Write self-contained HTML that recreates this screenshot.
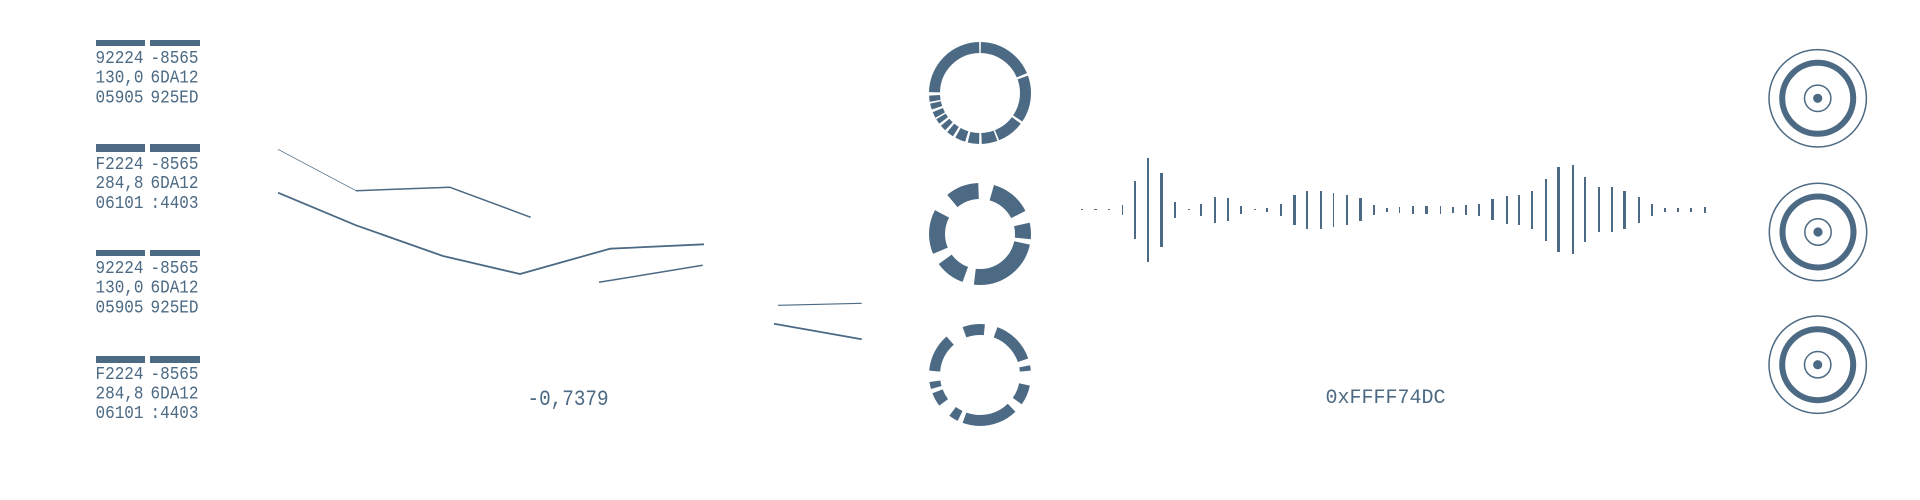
<!DOCTYPE html>
<html>
<head>
<meta charset="utf-8">
<style>
html,body{margin:0;padding:0;background:#fff;width:1920px;height:500px;overflow:hidden}
svg{display:block}
text{font-family:"Liberation Mono",monospace;fill:#4c6a84;white-space:pre}
.t{font-size:16px}
.l{fill:none;stroke:#4c6a84;stroke-linejoin:bevel}
.s{fill:none;stroke:#4c6a84}
</style>
</head>
<body>
<svg width="1920" height="500" viewBox="0 0 1920 500" xmlns="http://www.w3.org/2000/svg">
<rect width="1920" height="500" fill="#fff"/>
<g shape-rendering="crispEdges" fill="#4c6a84">
<rect x="96" y="40" width="49" height="6"/><rect x="150" y="40" width="50" height="6"/>
<rect x="96" y="144" width="49" height="8"/><rect x="150" y="144" width="50" height="8"/>
<rect x="96" y="250" width="49" height="6"/><rect x="150" y="250" width="50" height="6"/>
<rect x="96" y="356" width="49" height="7"/><rect x="150" y="356" width="50" height="7"/>
</g>
<text class="t" transform="translate(95.5,63) scale(1,1.13)">92224</text><text class="t" transform="translate(150.5,63) scale(1,1.13)">-8565</text>
<text class="t" transform="translate(95.5,82.5) scale(1,1.13)">130,0</text><text class="t" transform="translate(150.5,82.5) scale(1,1.13)">6DA12</text>
<text class="t" transform="translate(95.5,102.5) scale(1,1.13)">05905</text><text class="t" transform="translate(150.5,102.5) scale(1,1.13)">925ED</text>
<text class="t" transform="translate(95.5,169) scale(1,1.13)">F2224</text><text class="t" transform="translate(150.5,169) scale(1,1.13)">-8565</text>
<text class="t" transform="translate(95.5,188) scale(1,1.13)">284,8</text><text class="t" transform="translate(150.5,188) scale(1,1.13)">6DA12</text>
<text class="t" transform="translate(95.5,208) scale(1,1.13)">06101</text><text class="t" transform="translate(150.5,208) scale(1,1.13)">:4403</text>
<text class="t" transform="translate(95.5,273) scale(1,1.13)">92224</text><text class="t" transform="translate(150.5,273) scale(1,1.13)">-8565</text>
<text class="t" transform="translate(95.5,292.5) scale(1,1.13)">130,0</text><text class="t" transform="translate(150.5,292.5) scale(1,1.13)">6DA12</text>
<text class="t" transform="translate(95.5,312.5) scale(1,1.13)">05905</text><text class="t" transform="translate(150.5,312.5) scale(1,1.13)">925ED</text>
<text class="t" transform="translate(95.5,379) scale(1,1.13)">F2224</text><text class="t" transform="translate(150.5,379) scale(1,1.13)">-8565</text>
<text class="t" transform="translate(95.5,398.5) scale(1,1.13)">284,8</text><text class="t" transform="translate(150.5,398.5) scale(1,1.13)">6DA12</text>
<text class="t" transform="translate(95.5,418) scale(1,1.13)">06101</text><text class="t" transform="translate(150.5,418) scale(1,1.13)">:4403</text>

<path class="l" stroke-width="0.8" d="M278 149.3L356 190.7"/>
<path class="l" stroke-width="1.5" d="M356 190.7L450 187.3L530.7 217.3"/>
<path class="l" stroke-width="1.8" d="M278 192.7L356 225.3L443 256L520 274L610 248.7L704 244.3"/>
<path class="l" stroke-width="1.5" d="M599 282.3L702.7 265.3"/>
<path class="l" stroke-width="1.2" d="M778 305.3L861.7 303.3"/>
<path class="l" stroke-width="1.8" d="M774 323.7L861.7 339.3"/>

<text font-size="19.3" transform="translate(527.5,405) scale(1,1.17)">-0,7379</text>
<text font-size="20" x="1325.5" y="403">0xFFFF74DC</text>

<g transform="translate(980,93) rotate(-90)" stroke-width="11">
<circle class="s" r="45.5" pathLength="360" stroke-dasharray="66 360" stroke-dashoffset="-1"/>
<circle class="s" r="45.5" pathLength="360" stroke-dasharray="54 360" stroke-dashoffset="-70"/>
<circle class="s" r="45.5" pathLength="360" stroke-dasharray="31 360" stroke-dashoffset="-127"/>
<circle class="s" r="45.5" pathLength="360" stroke-dasharray="18 360" stroke-dashoffset="-160"/>
<circle class="s" r="45.5" pathLength="360" stroke-dasharray="13 360" stroke-dashoffset="-181"/>
<circle class="s" r="45.5" pathLength="360" stroke-dasharray="12 360" stroke-dashoffset="-197"/>
<circle class="s" r="45.5" pathLength="360" stroke-dasharray="8 360" stroke-dashoffset="-212"/>
<circle class="s" r="45.5" pathLength="360" stroke-dasharray="7 360" stroke-dashoffset="-223"/>
<circle class="s" r="45.5" pathLength="360" stroke-dasharray="6 360" stroke-dashoffset="-233"/>
<circle class="s" r="45.5" pathLength="360" stroke-dasharray="7 360" stroke-dashoffset="-241"/>
<circle class="s" r="45.5" pathLength="360" stroke-dasharray="7 360" stroke-dashoffset="-251"/>
<circle class="s" r="45.5" pathLength="360" stroke-dasharray="7 360" stroke-dashoffset="-260"/>
<circle class="s" r="45.5" pathLength="360" stroke-dasharray="88 360" stroke-dashoffset="-271"/>
</g>

<g transform="translate(980,234) rotate(-90)" stroke-width="16">
<circle class="s" r="43" pathLength="360" stroke-dasharray="47 360" stroke-dashoffset="-16"/>
<circle class="s" r="43" pathLength="360" stroke-dasharray="19 360" stroke-dashoffset="-77"/>
<circle class="s" r="43" pathLength="360" stroke-dasharray="85 360" stroke-dashoffset="-102"/>
<circle class="s" r="43" pathLength="360" stroke-dasharray="34 360" stroke-dashoffset="-200"/>
<circle class="s" r="43" pathLength="360" stroke-dasharray="51 360" stroke-dashoffset="-247"/>
<circle class="s" r="43" pathLength="360" stroke-dasharray="38 360" stroke-dashoffset="-320"/>
</g>

<g transform="translate(980,375) rotate(-90)" stroke-width="11">
<circle class="s" r="45.5" pathLength="360" stroke-dasharray="20 360" stroke-dashoffset="-340"/>
<circle class="s" r="45.5" pathLength="360" stroke-dasharray="5.6 360"/>
<circle class="s" r="45.5" pathLength="360" stroke-dasharray="51 360" stroke-dashoffset="-20"/>
<circle class="s" r="45.5" pathLength="360" stroke-dasharray="6 360" stroke-dashoffset="-79"/>
<circle class="s" r="45.5" pathLength="360" stroke-dasharray="23 360" stroke-dashoffset="-102"/>
<circle class="s" r="45.5" pathLength="360" stroke-dasharray="64 360" stroke-dashoffset="-136"/>
<circle class="s" r="45.5" pathLength="360" stroke-dasharray="11 360" stroke-dashoffset="-206"/>
<circle class="s" r="45.5" pathLength="360" stroke-dasharray="16 360" stroke-dashoffset="-233"/>
<circle class="s" r="45.5" pathLength="360" stroke-dasharray="8 360" stroke-dashoffset="-254"/>
<circle class="s" r="45.5" pathLength="360" stroke-dasharray="44 360" stroke-dashoffset="-275"/>
</g>

<g fill="#4c6a84" shape-rendering="crispEdges">
<rect x="1081" y="209" width="2" height="1"/>
<rect x="1094" y="209" width="3" height="1"/>
<rect x="1108" y="209" width="2" height="1"/>
<rect x="1122" y="205" width="1" height="10"/>
<rect x="1134" y="181" width="2" height="58"/>
<rect x="1147" y="158" width="2" height="104"/>
<rect x="1160" y="173" width="3" height="74"/>
<rect x="1174" y="202" width="2" height="16"/>
<rect x="1188" y="209" width="2" height="1"/>
<rect x="1200" y="204" width="2" height="12"/>
<rect x="1214" y="197" width="2" height="26"/>
<rect x="1227" y="198" width="2" height="23"/>
<rect x="1240" y="206" width="2" height="8"/>
<rect x="1254" y="209" width="2" height="1"/>
<rect x="1266" y="208" width="2" height="4"/>
<rect x="1280" y="204" width="2" height="12"/>
<rect x="1293" y="195" width="3" height="30"/>
<rect x="1306" y="191" width="2" height="38"/>
<rect x="1320" y="191" width="2" height="38"/>
<rect x="1333" y="193" width="1" height="34"/>
<rect x="1346" y="195" width="2" height="30"/>
<rect x="1359" y="198" width="3" height="23"/>
<rect x="1373" y="205" width="2" height="10"/>
<rect x="1386" y="208" width="2" height="4"/>
<rect x="1399" y="207" width="1" height="6"/>
<rect x="1412" y="206" width="2" height="8"/>
<rect x="1425" y="206" width="3" height="8"/>
<rect x="1440" y="206" width="1" height="8"/>
<rect x="1452" y="207" width="2" height="6"/>
<rect x="1465" y="205" width="2" height="10"/>
<rect x="1478" y="204" width="2" height="12"/>
<rect x="1491" y="199" width="3" height="21"/>
<rect x="1506" y="196" width="2" height="28"/>
<rect x="1518" y="195" width="2" height="30"/>
<rect x="1531" y="191" width="2" height="38"/>
<rect x="1545" y="179" width="2" height="62"/>
<rect x="1557" y="167" width="3" height="85"/>
<rect x="1572" y="165" width="2" height="89"/>
<rect x="1584" y="177" width="2" height="65"/>
<rect x="1598" y="187" width="2" height="45"/>
<rect x="1611" y="187" width="2" height="45"/>
<rect x="1623" y="191" width="3" height="38"/>
<rect x="1638" y="197" width="2" height="26"/>
<rect x="1651" y="204" width="2" height="12"/>
<rect x="1664" y="208" width="2" height="4"/>
<rect x="1677" y="208" width="2" height="4"/>
<rect x="1690" y="208" width="2" height="4"/>
<rect x="1704" y="207" width="2" height="6"/>
</g>

<g transform="translate(1817.7,98.3)">
<circle class="s" r="48.7" stroke-width="1.5"/><circle class="s" r="35.5" stroke-width="6"/><circle class="s" r="13.2" stroke-width="1.5"/><circle r="4.6" fill="#4c6a84"/>
</g>
<g transform="translate(1818,232)">
<circle class="s" r="48.7" stroke-width="1.5"/><circle class="s" r="35.5" stroke-width="6"/><circle class="s" r="13.2" stroke-width="1.5"/><circle r="4.6" fill="#4c6a84"/>
</g>
<g transform="translate(1817.7,364.7)">
<circle class="s" r="48.7" stroke-width="1.5"/><circle class="s" r="35.5" stroke-width="6"/><circle class="s" r="13.2" stroke-width="1.5"/><circle r="4.6" fill="#4c6a84"/>
</g>
</svg>
</body>
</html>
